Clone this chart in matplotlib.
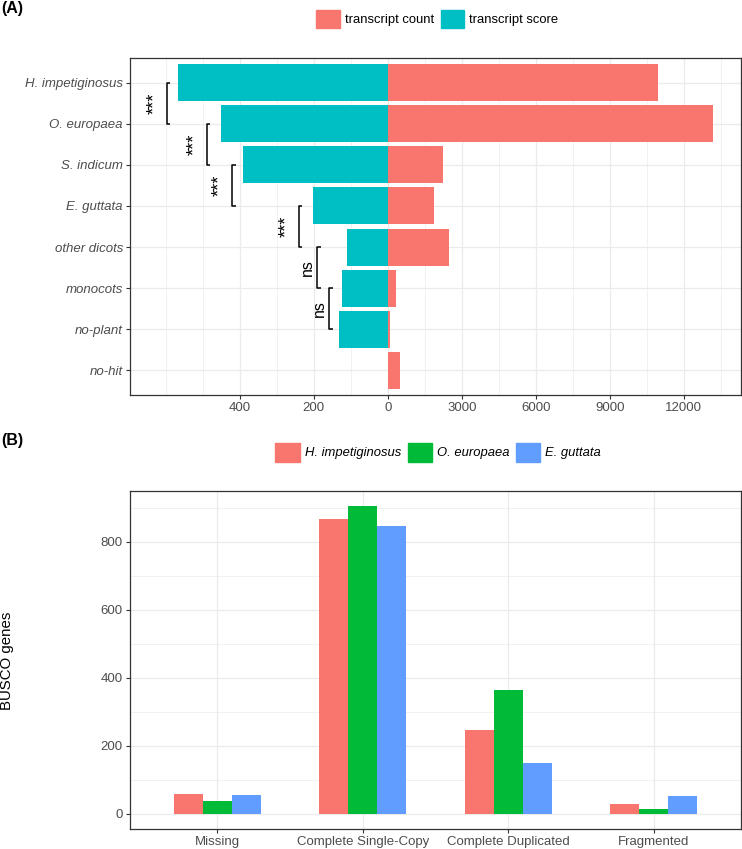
import numpy as np
import matplotlib
matplotlib.use("Agg")
import matplotlib.pyplot as plt
from matplotlib.patches import Patch

plt.rcParams["font.family"] = ["Liberation Sans", "DejaVu Sans"]

# panel A: taxonomic origin of transcripts
taxa = ["H. impetiginosus", "O. europaea", "S. indicum", "E. guttata",
        "other dicots", "monocots", "no-plant", "no-hit"]
transcript_count = [10950, 13190, 2250, 1890, 2490, 320, 80, 510]
transcript_score = [566, 452, 390, 203, 109, 124, 132, 0]

# significance brackets between neighbouring rows (score units)
bracket_rows = [0, 1, 2, 3, 4, 5]
bracket_x = [597, 489, 420, 240, 190, 158]
bracket_labels = ["***", "***", "***", "***", "ns", "ns"]

# panel B: BUSCO completeness
busco_cats = ["Missing", "Complete Single-Copy", "Complete Duplicated", "Fragmented"]
species = ["H. impetiginosus", "O. europaea", "E. guttata"]
busco_imp = [58, 866, 246, 29]
busco_eur = [37, 904, 364, 14]
busco_gut = [55, 846, 150, 52]

RED = "#F8766D"
TEAL = "#00BFC4"
GREEN = "#00BA38"
BLUE = "#619CFF"
GRID = "#EBEBEB"
BORDER = "#333333"
TICKTXT = "#4D4D4D"
SCALE = 15  # score axis stretched so 200 score == 3000 count

W, H = 742, 849


def style_axes(ax):
    for sp in ax.spines.values():
        sp.set_color(BORDER)
        sp.set_linewidth(0.9)
    ax.tick_params(which="major", length=2.6, width=0.8, color=BORDER,
                   labelcolor=TICKTXT, labelsize=9.5, pad=2.5)
    ax.tick_params(which="minor", length=0)
    ax.grid(which="major", color=GRID, linewidth=0.9)
    ax.grid(which="minor", color=GRID, linewidth=0.5)
    ax.set_axisbelow(True)


fig = plt.figure(figsize=(W / 100, H / 100), dpi=100)

# ---- (A)
ax1 = fig.add_axes([130 / W, 1 - 395 / H, 611 / W, 337 / H])
rows = np.arange(len(taxa))
ax1.barh(rows, -np.array(transcript_score) * SCALE, height=0.9, color=TEAL)
ax1.barh(rows, transcript_count, height=0.9, color=RED)
ax1.set_xlim(-10450, 14320)
ax1.set_ylim(len(taxa) - 0.4, -0.6)
ax1.set_yticks(rows)
ax1.set_yticklabels(taxa, style="italic")
major = [-6000, -3000, 0, 3000, 6000, 9000, 12000]
ax1.set_xticks(major)
ax1.set_xticklabels(["400", "200", "0", "3000", "6000", "9000", "12000"])
ax1.set_xticks([v for v in np.arange(-9000, 14400, 1500) if v not in major], minor=True)
style_axes(ax1)
ax1.grid(which="minor", axis="y", visible=False)

tick_w = 9 * SCALE
for r, bx, lab in zip(bracket_rows, bracket_x, bracket_labels):
    x0 = -bx * SCALE
    ax1.plot([x0 + tick_w, x0, x0, x0 + tick_w], [r, r, r + 1, r + 1],
             color="black", lw=1.1, solid_capstyle="butt")
    if lab == "***":
        ax1.text(x0 - 34 * SCALE, r + 0.5, lab, rotation=90, ha="center",
                 va="center", fontsize=13, color="black")
    else:
        ax1.text(x0 - 28 * SCALE, r + 0.5, lab, rotation=90, ha="center",
                 va="center", fontsize=11.5, color="black")

fig.legend(handles=[Patch(color=RED), Patch(color=TEAL)],
           labels=["transcript count", "transcript score"],
           loc="center", bbox_to_anchor=(437.5 / W, 1 - 19 / H), ncol=2,
           frameon=False, fontsize=9.4, handlelength=1.8, handleheight=1.8,
           handletextpad=0.4, columnspacing=0.5, borderpad=0)

# ---- (B)
ax2 = fig.add_axes([130 / W, 1 - 829 / H, 611 / W, 338 / H])
x = np.arange(len(busco_cats))
bw = 0.2
for i, (vals, col) in enumerate(zip([busco_imp, busco_eur, busco_gut],
                                    [RED, GREEN, BLUE])):
    ax2.bar(x + (i - 1) * bw, vals, width=bw, color=col)
ax2.set_xlim(-0.6, len(busco_cats) - 0.4)
ax2.set_ylim(-45.2, 949.2)
ax2.set_xticks(x)
ax2.set_xticklabels(busco_cats)
ax2.set_yticks([0, 200, 400, 600, 800])
ax2.set_yticks([100, 300, 500, 700, 900], minor=True)
style_axes(ax2)
ax2.grid(which="minor", axis="x", visible=False)

fig.legend(handles=[Patch(color=RED), Patch(color=GREEN), Patch(color=BLUE)],
           labels=species, loc="center",
           bbox_to_anchor=(438.3 / W, 1 - 452.3 / H), ncol=3, frameon=False,
           handlelength=1.85, handleheight=1.85,
           handletextpad=0.4, columnspacing=0.5, borderpad=0,
           prop={"style": "italic", "size": 9.4})

fig.text(7 / W, 1 - 661 / H, "BUSCO genes", rotation=90, ha="center",
         va="center", fontsize=10.8)
fig.text(1 / W, 1 - 8 / H, "(A)", fontweight="bold", fontsize=11.5,
         ha="left", va="center")
fig.text(1 / W, 1 - 440 / H, "(B)", fontweight="bold", fontsize=11.5,
         ha="left", va="center")

fig.savefig("out.png", dpi=100)
